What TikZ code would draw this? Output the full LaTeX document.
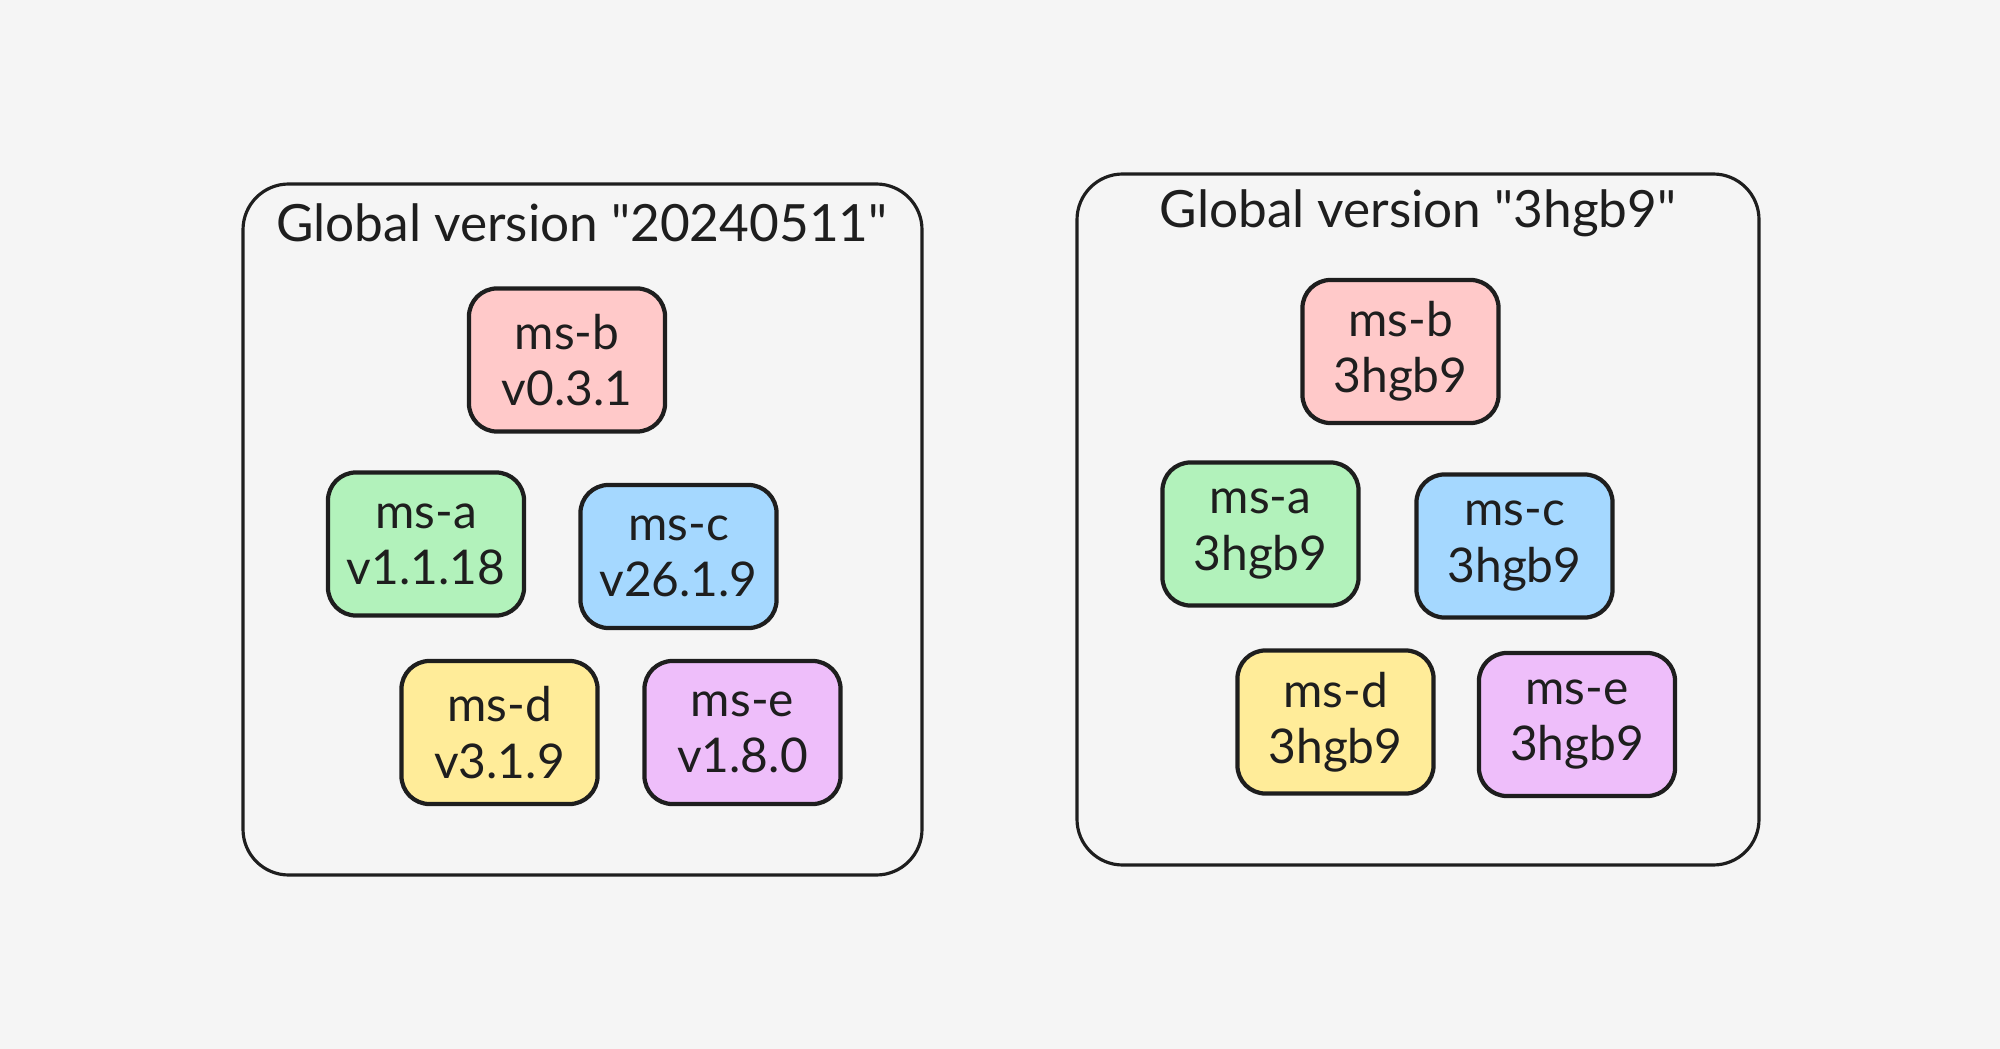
\documentclass[tikz,border=0pt]{standalone}
\usepackage{fontspec}
\setmainfont{Lato}[Ligatures=TeXOff]
\usepackage{tikz}
\usetikzlibrary{calc}
\definecolor{paper}{HTML}{F5F5F5}
\definecolor{ink}{HTML}{1E1E1E}
\definecolor{msred}{HTML}{FFC9C9}
\definecolor{msgreen}{HTML}{B2F2BB}
\definecolor{msblue}{HTML}{A5D8FF}
\definecolor{msyellow}{HTML}{FFEC99}
\definecolor{msviolet}{HTML}{EEBEFA}
\tikzset{
    panel/.style={draw=ink, line width=0.9pt, rounded corners=13pt},
    heading/.style={text=ink, font=\fontsize{14.6}{17}\selectfont},
    service/.style={draw=ink, line width=1.2pt, rounded corners=8pt,
        minimum width=1.96cm, minimum height=1.43cm, inner sep=0pt,
        align=center, text=ink, font=\fontsize{13.6}{16}\selectfont}
}
\begin{document}
\begin{tikzpicture}[x=0.01cm, y=-0.01cm]
            \fill[paper] (0,0) rectangle (2000,1049);
            \useasboundingbox (0,0) rectangle (2000,1049);
            \coordinate (L1) at (243,184);
            \coordinate (L2) at (922,875);
            \coordinate (R1) at (1077,174);
            \coordinate (R2) at (1759,865);
            \draw[panel] (L1) rectangle (L2);
            \draw[panel] (R1) rectangle (R2);
            \node[heading] (ltitle) at (582,223) {Global version "20240511"};
            \node[heading] (rtitle) at (1418,213) {Global version "3hgb9"};
            \node[service, fill=msred] (lb) at (567,360) {ms-b\\v0.3.1};
            \node[service, fill=msgreen] (la) at (426,544) {ms-a\\v1.1.18};
            \node[service, fill=msblue] (lc) at (678.5,556.5) {ms-c\\v26.1.9};
            \node[service, fill=msyellow] (ld) at (499.5,732.5) {ms-d\\v3.1.9};
            \node[service, fill=msviolet] (le) at (742.5,732.5) {ms-e\\v1.8.0};
            \node[service, fill=msred] (rb) at (1400.5,351.5) {ms-b\\3hgb9};
            \node[service, fill=msgreen] (ra) at (1260.5,534) {ms-a\\3hgb9};
            \node[service, fill=msblue] (rc) at (1514.5,546) {ms-c\\3hgb9};
            \node[service, fill=msyellow] (rd) at (1335.5,722) {ms-d\\3hgb9};
            \node[service, fill=msviolet] (re) at (1577,724.5) {ms-e\\3hgb9};
        \end{tikzpicture}
\end{document}
